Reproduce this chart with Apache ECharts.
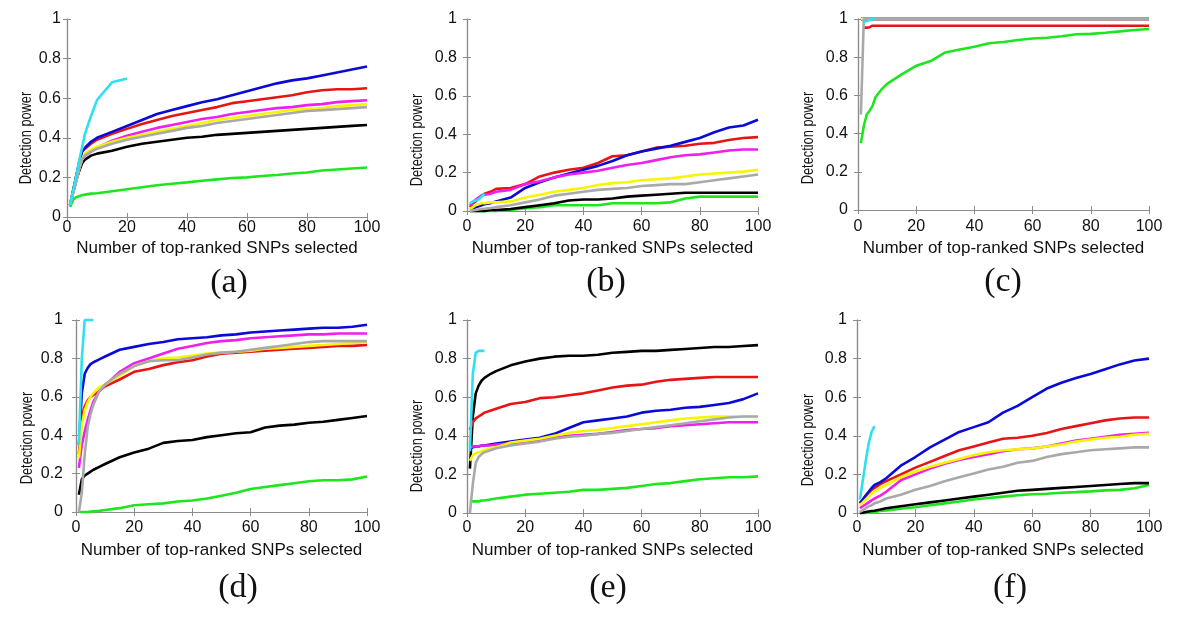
<!DOCTYPE html>
<html><head><meta charset="utf-8">
<script src="https://cdn.jsdelivr.net/npm/echarts@6/dist/echarts.min.js"></script>
<style>html,body{margin:0;padding:0;background:#fff}#c{width:1200px;height:620px}</style>
</head><body><div id="c"></div>
<script>
// shared x positions (number of top-ranked SNPs)
const X = [1,2,3,4,5,6,8,10,15,20,25,30,35,40,45,50,55,60,65,70,75,80,85,90,95,100];
const xTickLabels = [0,20,40,60,80,100];
const yTickLabels = [0,0.2,0.4,0.6,0.8,1];
const panelLabels = ['(a)','(b)','(c)','(d)','(e)','(f)'];
const xTitle = 'Number of top-ranked SNPs selected';
const yTitle = 'Detection power';
const seriesNames = ['green','black','red','blue','magenta','yellow','gray','cyan'];

// (a)
const aGreen   = [0.05,0.085,0.1,0.105,0.11,0.113,0.118,0.12,0.13,0.14,0.15,0.16,0.168,0.175,0.183,0.19,0.197,0.2,0.207,0.212,0.22,0.225,0.235,0.24,0.245,0.25];
const aBlack   = [0.06,0.12,0.18,0.23,0.27,0.29,0.31,0.32,0.335,0.355,0.37,0.38,0.39,0.4,0.405,0.415,0.42,0.425,0.43,0.435,0.44,0.445,0.45,0.455,0.46,0.465];
const aRed     = [0.06,0.13,0.2,0.27,0.33,0.345,0.37,0.39,0.42,0.445,0.47,0.49,0.51,0.525,0.54,0.555,0.575,0.585,0.595,0.605,0.615,0.63,0.64,0.645,0.645,0.65];
const aBlue    = [0.06,0.13,0.2,0.27,0.33,0.35,0.38,0.4,0.43,0.46,0.49,0.52,0.54,0.56,0.58,0.595,0.615,0.635,0.655,0.675,0.69,0.7,0.715,0.73,0.745,0.76];
const aMagenta = [0.06,0.12,0.18,0.24,0.29,0.31,0.33,0.35,0.385,0.41,0.43,0.45,0.465,0.48,0.495,0.505,0.52,0.53,0.54,0.55,0.555,0.565,0.57,0.58,0.585,0.59];
const aYellow  = [0.06,0.12,0.18,0.24,0.29,0.32,0.34,0.355,0.38,0.4,0.415,0.43,0.445,0.46,0.475,0.49,0.5,0.51,0.52,0.53,0.54,0.545,0.55,0.56,0.565,0.57];
const aGray    = [0.06,0.12,0.18,0.24,0.29,0.31,0.33,0.345,0.37,0.39,0.405,0.42,0.435,0.45,0.46,0.475,0.485,0.495,0.505,0.515,0.525,0.535,0.54,0.545,0.55,0.555];
const aCyan    = [0.06,0.13,0.2,0.28,0.35,0.42,0.51,0.59,0.68,0.7,null,null,null,null,null,null,null,null,null,null,null,null,null,null,null,null];

// (b)
const bGreen   = [0,0,0,0,0,0,0,0,0.005,0.015,0.02,0.03,0.03,0.03,0.03,0.04,0.04,0.04,0.04,0.045,0.065,0.075,0.075,0.075,0.075,0.075];
const bBlack   = [0,0,0,0,0,0,0.005,0.005,0.01,0.02,0.03,0.04,0.055,0.06,0.06,0.065,0.075,0.08,0.085,0.09,0.095,0.095,0.095,0.095,0.095,0.095];
const bRed     = [0.02,0.04,0.05,0.065,0.08,0.09,0.1,0.115,0.12,0.14,0.18,0.2,0.215,0.225,0.25,0.285,0.29,0.31,0.33,0.335,0.34,0.35,0.355,0.37,0.38,0.385];
const bBlue    = [0.01,0.015,0.02,0.025,0.03,0.035,0.04,0.05,0.07,0.12,0.15,0.175,0.195,0.215,0.235,0.26,0.29,0.31,0.325,0.34,0.36,0.38,0.41,0.435,0.445,0.475];
const bMagenta = [0.03,0.045,0.06,0.07,0.08,0.085,0.09,0.1,0.11,0.14,0.155,0.175,0.19,0.2,0.21,0.225,0.24,0.25,0.265,0.28,0.29,0.295,0.305,0.315,0.32,0.32];
const bYellow  = [0.01,0.02,0.03,0.035,0.04,0.04,0.045,0.045,0.05,0.07,0.085,0.1,0.11,0.12,0.135,0.145,0.15,0.16,0.165,0.17,0.18,0.19,0.195,0.2,0.205,0.215];
const bGray    = [0,0.003,0.005,0.008,0.01,0.012,0.015,0.02,0.03,0.045,0.06,0.08,0.09,0.1,0.11,0.115,0.12,0.13,0.135,0.14,0.14,0.15,0.16,0.17,0.18,0.19];
const bCyan    = [0.04,0.05,0.055,0.06,0.075,0.09,null,null,null,null,null,null,null,null,null,null,null,null,null,null,null,null,null,null,null,null];

// (c)
const cGreen   = [0.35,0.44,0.5,0.52,0.545,0.59,0.63,0.66,0.71,0.755,0.78,0.825,0.84,0.855,0.873,0.88,0.89,0.898,0.902,0.91,0.92,0.922,0.928,0.935,0.942,0.948];
const cBlack   = [1,1,1,1,1,1,1,1,1,1,1,1,1,1,1,1,1,1,1,1,1,1,1,1,1,1];
const cRed     = [null,0.955,0.955,0.957,0.965,0.965,0.965,0.965,0.965,0.965,0.965,0.965,0.965,0.965,0.965,0.965,0.965,0.965,0.965,0.965,0.965,0.965,0.965,0.965,0.965,0.965];
const cBlue    = [1,1,1,1,1,1,1,1,1,1,1,1,1,1,1,1,1,1,1,1,1,1,1,1,1,1];
const cMagenta = [1,1,1,1,1,1,1,1,1,1,1,1,1,1,1,1,1,1,1,1,1,1,1,1,1,1];
const cYellow  = [1,1,1,1,1,1,1,1,1,1,1,1,1,1,1,1,1,1,1,1,1,1,1,1,1,1];
const cGray    = [0.5,1,1,1,1,1,1,1,1,1,1,1,1,1,1,1,1,1,1,1,1,1,1,1,1,1];
const cCyan    = [null,0.985,0.99,0.995,1,1,null,null,null,null,null,null,null,null,null,null,null,null,null,null,null,null,null,null,null,null];

// (d)
const dGreen   = [0,0,0,0,0.002,0.004,0.006,0.01,0.02,0.035,0.04,0.045,0.055,0.06,0.07,0.085,0.1,0.12,0.13,0.14,0.15,0.16,0.165,0.165,0.17,0.185];
const dBlack   = [0.09,0.17,0.19,0.2,0.21,0.22,0.235,0.25,0.285,0.31,0.33,0.36,0.37,0.375,0.39,0.4,0.41,0.415,0.44,0.45,0.455,0.465,0.47,0.48,0.49,0.5];
const dRed     = [0.3,0.5,0.55,0.58,0.6,0.61,0.63,0.655,0.69,0.73,0.745,0.765,0.78,0.79,0.81,0.825,0.83,0.835,0.84,0.845,0.85,0.855,0.86,0.865,0.865,0.87];
const dBlue    = [0.35,0.62,0.72,0.75,0.77,0.78,0.795,0.81,0.845,0.86,0.875,0.885,0.9,0.905,0.91,0.92,0.925,0.935,0.94,0.945,0.95,0.955,0.96,0.96,0.965,0.975];
const dMagenta = [0.23,0.35,0.42,0.48,0.53,0.575,0.63,0.66,0.73,0.775,0.8,0.825,0.85,0.865,0.88,0.89,0.895,0.905,0.91,0.915,0.92,0.925,0.925,0.93,0.93,0.93];
const dYellow  = [0.28,0.45,0.53,0.57,0.6,0.62,0.65,0.665,0.71,0.76,0.785,0.8,0.805,0.815,0.825,0.83,0.835,0.84,0.85,0.855,0.86,0.865,0.87,0.875,0.88,0.885];
const dGray    = [0,0.1,0.3,0.44,0.51,0.56,0.63,0.665,0.72,0.76,0.785,0.79,0.79,0.805,0.82,0.83,0.835,0.845,0.855,0.865,0.875,0.885,0.89,0.89,0.89,0.89];
const dCyan    = [0.35,0.8,1,1,1,1,null,null,null,null,null,null,null,null,null,null,null,null,null,null,null,null,null,null,null,null];

// (e)
const eGreen   = [0.06,0.06,0.06,0.06,0.065,0.065,0.07,0.075,0.085,0.095,0.1,0.105,0.11,0.12,0.12,0.125,0.13,0.14,0.15,0.155,0.165,0.175,0.18,0.185,0.185,0.19];
const eBlack   = [0.23,0.5,0.62,0.66,0.685,0.7,0.72,0.735,0.765,0.785,0.8,0.81,0.815,0.815,0.82,0.83,0.835,0.84,0.84,0.845,0.85,0.855,0.86,0.86,0.865,0.87];
const eRed     = [0.43,0.47,0.49,0.5,0.51,0.52,0.53,0.54,0.565,0.575,0.595,0.6,0.61,0.62,0.635,0.65,0.66,0.665,0.68,0.69,0.695,0.7,0.705,0.705,0.705,0.705];
const eBlue    = [0.34,0.34,0.345,0.345,0.35,0.35,0.355,0.36,0.37,0.38,0.39,0.41,0.44,0.47,0.48,0.49,0.5,0.52,0.53,0.535,0.545,0.55,0.56,0.57,0.59,0.62];
const eMagenta = [0.34,0.345,0.345,0.345,0.35,0.35,0.35,0.355,0.36,0.37,0.38,0.39,0.4,0.405,0.41,0.42,0.43,0.435,0.44,0.45,0.455,0.46,0.465,0.47,0.47,0.47];
const eYellow  = [0.27,0.3,0.31,0.315,0.32,0.325,0.335,0.34,0.365,0.375,0.385,0.4,0.415,0.425,0.43,0.44,0.45,0.46,0.47,0.48,0.49,0.495,0.5,0.5,0.5,0.5];
const eGray    = [0,0.15,0.26,0.29,0.305,0.315,0.325,0.335,0.35,0.36,0.37,0.385,0.395,0.4,0.41,0.415,0.425,0.435,0.445,0.455,0.465,0.475,0.485,0.495,0.5,0.5];
const eCyan    = [0.32,0.72,0.83,0.84,0.84,0.84,null,null,null,null,null,null,null,null,null,null,null,null,null,null,null,null,null,null,null,null];

// (f)
const fGreen   = [0,0,0,0.002,0.004,0.006,0.01,0.013,0.022,0.03,0.04,0.05,0.06,0.07,0.078,0.085,0.092,0.097,0.1,0.105,0.108,0.112,0.117,0.12,0.128,0.145];
const fBlack   = [0,0.002,0.005,0.008,0.01,0.012,0.018,0.025,0.035,0.045,0.055,0.065,0.075,0.085,0.095,0.105,0.115,0.12,0.125,0.13,0.135,0.14,0.145,0.15,0.155,0.155];
const fRed     = [0.05,0.07,0.09,0.105,0.12,0.13,0.15,0.165,0.2,0.235,0.265,0.295,0.325,0.345,0.365,0.385,0.39,0.4,0.415,0.435,0.45,0.465,0.48,0.49,0.495,0.495];
const fBlue    = [0.05,0.07,0.09,0.11,0.13,0.145,0.16,0.18,0.245,0.29,0.34,0.38,0.42,0.445,0.47,0.52,0.555,0.6,0.645,0.675,0.7,0.72,0.745,0.77,0.79,0.8];
const fMagenta = [0.025,0.035,0.045,0.055,0.065,0.075,0.09,0.11,0.17,0.2,0.23,0.255,0.275,0.29,0.305,0.32,0.33,0.335,0.345,0.36,0.375,0.385,0.395,0.405,0.41,0.415];
const fYellow  = [0.04,0.055,0.07,0.085,0.1,0.11,0.13,0.145,0.185,0.215,0.24,0.26,0.28,0.3,0.315,0.325,0.33,0.335,0.345,0.355,0.37,0.38,0.39,0.395,0.405,0.41];
const fGray    = [0.005,0.015,0.025,0.035,0.04,0.05,0.06,0.075,0.095,0.12,0.14,0.165,0.185,0.205,0.225,0.24,0.26,0.27,0.29,0.305,0.315,0.325,0.33,0.335,0.34,0.34];
const fCyan    = [0.07,0.17,0.27,0.36,0.42,0.45,null,null,null,null,null,null,null,null,null,null,null,null,null,null,null,null,null,null,null,null];

const panels = [
  [aGreen,aBlack,aRed,aBlue,aMagenta,aYellow,aGray,aCyan],
  [bGreen,bBlack,bRed,bBlue,bMagenta,bYellow,bGray,bCyan],
  [cGreen,cBlack,cRed,cBlue,cMagenta,cYellow,cGray,cCyan],
  [dGreen,dBlack,dRed,dBlue,dMagenta,dYellow,dGray,dCyan],
  [eGreen,eBlack,eRed,eBlue,eMagenta,eYellow,eGray,eCyan],
  [fGreen,fBlack,fRed,fBlue,fMagenta,fYellow,fGray,fCyan]
];

// ---- layout / style ----
const colors = {green:'#1ee61e',black:'#000000',red:'#e81414',blue:'#0a0ad8',magenta:'#f01ef0',yellow:'#f6f600',gray:'#a9a9a9',cyan:'#2ee0f0'};
const rects = [
  {l:67, t:19, w:300, h:198},
  {l:467,t:19, w:291, h:192},
  {l:858,t:19, w:291, h:191},
  {l:76, t:320,w:291, h:192},
  {l:467,t:320,w:291, h:193},
  {l:857,t:320,w:292, h:193}
];
const xTitleY = [248,248,248,550,550,550];
const xLabelY = [227.5,227,227,527.5,527.5,527.5];
const yLabelMargin = [6,10,10,13,10,10];
const yTitlePos = [[27,138],[418,140],[809,138],[27.5,438],[418,446],[809,440]];
const labelPos = [[229,283],[606,282],[1003,282],[238,588],[608,588],[1010,588]];
const sans = '"Liberation Sans", Arial, Helvetica, sans-serif';
const serif = '"Liberation Serif", "Times New Roman", serif';
const boxColor = '#8c8c8c';

const grid=[], xAxis=[], yAxis=[], series=[], graphic=[];
rects.forEach((r,i)=>{
  grid.push({left:r.l, top:r.t, width:r.w, height:r.h, containLabel:false});
  const tick = {show:true, inside:true, length:4, lineStyle:{color:boxColor, width:1}};
  const line = {show:true, lineStyle:{color:boxColor, width:1.2}};
  xAxis.push({type:'value', gridIndex:i, min:0, max:100, interval:20, position:'bottom',
    axisLine:line, axisTick:tick, splitLine:{show:false},
    axisLabel:{show:true, margin:xLabelY[i]-(r.t+r.h)-8, fontSize:16, fontFamily:sans, color:'#111',
      formatter:v=>xTickLabels.includes(v)?String(v):''},
    name:xTitle, nameLocation:'middle', nameGap:xTitleY[i]-(r.t+r.h)-8,
    nameTextStyle:{fontSize:17, fontFamily:sans, color:'#111'}});
  yAxis.push({type:'value', gridIndex:i, min:0, max:1, interval:0.2, position:'left',
    axisLine:line, axisTick:tick, splitLine:{show:false},
    axisLabel:{show:true, margin:yLabelMargin[i], fontSize:16, fontFamily:sans, color:'#111',
      formatter:v=>{const k=yTickLabels.findIndex(t=>Math.abs(t-v)<1e-9); return k<0?'':String(yTickLabels[k]);}}});
});
rects.forEach((r,i)=>{
  const tick = {show:true, inside:true, length:4, lineStyle:{color:boxColor, width:1}};
  const line = {show:true, lineStyle:{color:boxColor, width:1.2}};
  xAxis.push({type:'value', gridIndex:i, min:0, max:100, interval:20, position:'top',
    axisLine:line, axisTick:tick, axisLabel:{show:false}, splitLine:{show:false}});
  yAxis.push({type:'value', gridIndex:i, min:0, max:1, interval:0.2, position:'right',
    axisLine:line, axisTick:tick, axisLabel:{show:false}, splitLine:{show:false}});
});
panels.forEach((p,i)=>{
  p.forEach((vals,k)=>{
    const name = seriesNames[k];
    const data = [];
    X.forEach((x,j)=>{ if(vals[j]!==null && vals[j]!==undefined) data.push([x, vals[j]]); });
    series.push({type:'line', name, xAxisIndex:i, yAxisIndex:i, data, showSymbol:false, symbol:'none',
      clip:false, silent:true, lineStyle:{color:colors[name], width:2.6}, itemStyle:{color:colors[name]}});
  });
  graphic.push({type:'text', x:yTitlePos[i][0], y:yTitlePos[i][1], rotation:Math.PI/2, scaleX:0.8,
    style:{text:yTitle, font:'16px '+sans, fill:'#111', textAlign:'center', textVerticalAlign:'middle'}});
  graphic.push({type:'text', x:labelPos[i][0], y:labelPos[i][1],
    style:{text:panelLabels[i], font:'34px '+serif, fill:'#111', textAlign:'center', textVerticalAlign:'middle'}});
});

const chart = echarts.init(document.getElementById('c'), null, {renderer:'canvas'});
chart.setOption({animation:false, backgroundColor:'#fff', grid, xAxis, yAxis, series, graphic});
</script></body></html>
